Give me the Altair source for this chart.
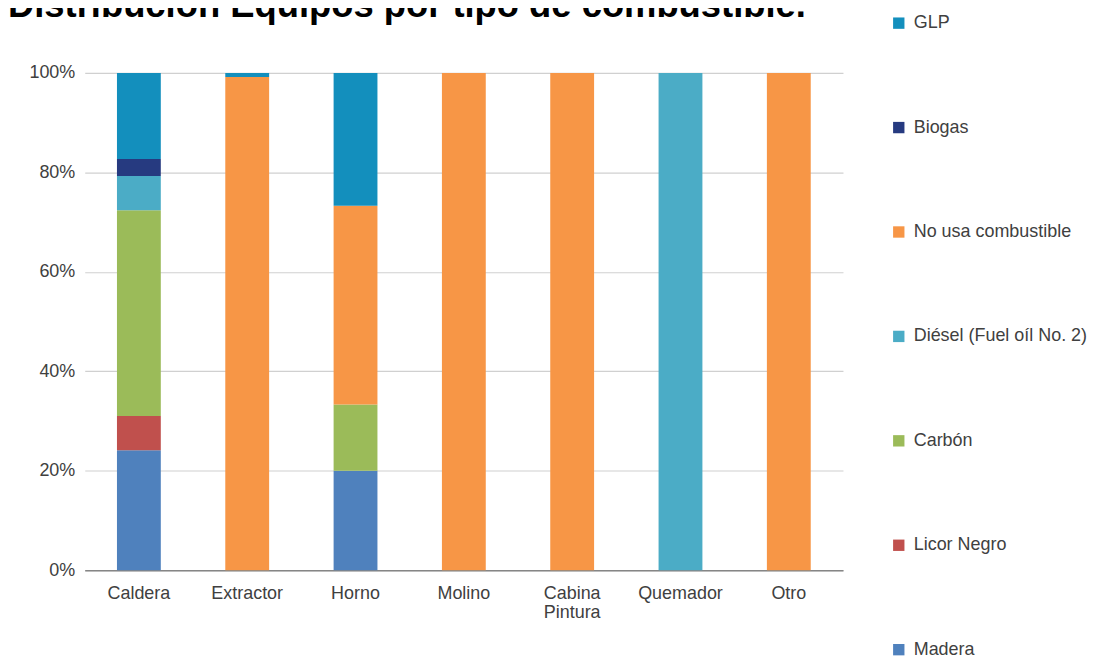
import altair as alt
import pandas as pd

equipos = ["Caldera", "Extractor", "Horno", "Molino", "Cabina Pintura", "Quemador", "Otro"]
combustibles = ["GLP", "Biogas", "No usa combustible", "Diésel (Fuel oíl No. 2)",
                "Carbón", "Licor Negro", "Madera"]
colores = ["#138FBD", "#263A80", "#F79646", "#4BACC6", "#9BBB59", "#C0504D", "#4F81BD"]
# stacking order bottom-up
orden_pila = ["Madera", "Licor Negro", "Carbón", "Diésel (Fuel oíl No. 2)",
              "No usa combustible", "Biogas", "GLP"]

# percentage per equipment
madera      = [24.1, 0.0, 20.0, 0.0, 0.0, 0.0, 0.0]
licor_negro = [6.9, 0.0, 0.0, 0.0, 0.0, 0.0, 0.0]
carbon      = [41.4, 0.0, 13.3, 0.0, 0.0, 0.0, 0.0]
diesel      = [6.9, 0.0, 0.0, 0.0, 0.0, 100.0, 0.0]
no_usa      = [0.0, 99.2, 40.0, 100.0, 100.0, 0.0, 100.0]
biogas      = [3.4, 0.0, 0.0, 0.0, 0.0, 0.0, 0.0]
glp         = [17.3, 0.8, 26.7, 0.0, 0.0, 0.0, 0.0]

series = {
    "Madera": madera, "Licor Negro": licor_negro, "Carbón": carbon,
    "Diésel (Fuel oíl No. 2)": diesel, "No usa combustible": no_usa,
    "Biogas": biogas, "GLP": glp,
}

rows = []
for comb, vals in series.items():
    for eq, v in zip(equipos, vals):
        rows.append({"equipo": eq, "combustible": comb, "valor": v / 100.0,
                     "orden": orden_pila.index(comb)})
df = pd.DataFrame(rows)

FONT = "Liberation Sans"

chart = alt.Chart(df).mark_bar(size=44).encode(
    x=alt.X("equipo:N", sort=equipos, title=None,
            scale=alt.Scale(paddingInner=0, paddingOuter=0),
            axis=alt.Axis(labelAngle=0, labelFontSize=18, labelColor="#404040",
                          labelFont=FONT, labelPadding=14, ticks=False,
                          domainColor="#868686", domainWidth=1.5,
                          labelExpr="datum.label == 'Cabina Pintura' ? ['Cabina','Pintura'] : datum.label")),
    y=alt.Y("valor:Q", stack="zero", title=None,
            scale=alt.Scale(domain=[0, 1], nice=False),
            axis=alt.Axis(format="%", values=[0, 0.2, 0.4, 0.6, 0.8, 1.0],
                          labelFontSize=18, labelColor="#404040", labelFont=FONT,
                          labelPadding=10, domain=False, ticks=False,
                          gridColor="#D0D0D0", gridWidth=1.2)),
    color=alt.Color("combustible:N",
                    scale=alt.Scale(domain=combustibles, range=colores),
                    legend=alt.Legend(title=None, orient="none", legendX=808, legendY=-59,
                                      symbolType="square", symbolSize=130,
                                      symbolStrokeWidth=0, labelFontSize=18,
                                      labelFont=FONT, labelColor="#404040",
                                      rowPadding=86.8, labelOffset=6, labelLimit=300)),
    order=alt.Order("orden:Q", sort="ascending"),
).properties(
    width=761, height=499,
    title=alt.TitleParams("Distribución Equipos por tipo  de combustible.",
                          anchor="start", frame="group", dx=-77, dy=13,
                          fontSize=36.5, font=FONT,
                          fontWeight="bold", color="#000000", offset=3),
    autosize=alt.AutoSizeParams(type="none"),
    padding={"left": 77, "top": 64, "right": 270, "bottom": 100},
).configure_view(stroke=None)

chart.save("out.html", embed_options={"renderer": "svg", "actions": False})
